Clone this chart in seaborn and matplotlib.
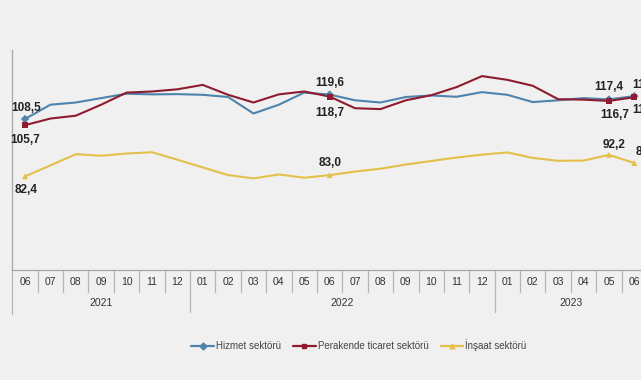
import matplotlib
matplotlib.use("Agg")
import matplotlib.pyplot as plt
import matplotlib.transforms as mtransforms
from matplotlib.lines import Line2D
import seaborn as sns
import pandas as pd

# ---- data ----
months = ["06", "07", "08", "09", "10", "11", "12",
          "01", "02", "03", "04", "05", "06", "07", "08", "09", "10", "11", "12",
          "01", "02", "03", "04", "05", "06"]
years = ["2021", "2022", "2023"]
year_first_idx = [0, 7, 19]
year_last_idx = [6, 18, 24]

hizmet = [108.5, 115.0, 116.0, 118.0, 120.0, 119.7, 119.8,
          119.5, 118.5, 111.0, 115.0, 120.5, 119.6, 117.0, 116.0, 118.5, 119.2, 118.6, 120.7,
          119.5, 116.2, 117.0, 118.0, 117.4, 118.9]
perakende = [105.7, 108.7, 110.0, 115.0, 120.5, 121.0, 122.0,
             124.0, 119.5, 116.0, 119.7, 121.0, 118.7, 113.4, 113.0, 117.0, 119.3, 123.0, 128.0,
             126.3, 123.6, 117.5, 117.3, 116.7, 118.4]
insaat = [82.4, 87.4, 92.5, 91.8, 92.8, 93.4, 90.0,
          86.5, 83.0, 81.5, 83.3, 81.8, 83.0, 84.6, 85.9, 87.8, 89.4, 91.0, 92.3,
          93.3, 90.8, 89.5, 89.6, 92.2, 88.5]
series_names = ["Hizmet sektörü", "Perakende ticaret sektörü", "İnşaat sektörü"]
labelled_idx = [0, 12, 23, 24]

# ---- style ----
colors = ["#4d83ad", "#8e1b2e", "#e3c04a"]
markers = ["D", "s", "^"]
bg = "#f0f0f0"

sns.set_theme(style="white")
plt.rcParams["font.family"] = ["Liberation Sans", "DejaVu Sans"]

df = pd.DataFrame({
    "idx": list(range(len(months))) * 3,
    "value": hizmet + perakende + insaat,
    "series": sum([[n] * len(months) for n in series_names], []),
})
df_mark = df[df["idx"].isin(labelled_idx)]

fig = plt.figure(figsize=(6.41, 3.80), dpi=100, facecolor=bg)
ax = fig.add_axes([12.3 / 641, 110.3 / 380, 634.7 / 641, 220 / 380])
ax.set_facecolor(bg)

pal = dict(zip(series_names, colors))
sns.lineplot(data=df, x="idx", y="value", hue="series", palette=pal,
             linewidth=1.5, ax=ax, legend=False)
sns.scatterplot(data=df_mark, x="idx", y="value", hue="series", style="series",
                markers=dict(zip(series_names, markers)), palette=pal,
                s=18, linewidth=0, ax=ax, legend=False, zorder=5)

# data labels (offsets in points: dx, dy)
offsets = {
    series_names[0]: [(1, 8), (0, 8), (0, 9), (9, 8)],
    series_names[1]: [(0, -11), (0, -12), (4, -10), (9, -9)],
    series_names[2]: [(1, -10), (0, 9), (4, 7), (9, 8)],
}
for name in series_names:
    sub = df_mark[df_mark["series"] == name]
    for (dx, dy), (_, row) in zip(offsets[name], sub.iterrows()):
        ax.annotate(f"{row['value']:.1f}".replace(".", ","),
                    (row["idx"], row["value"]), xytext=(dx, dy),
                    textcoords="offset points", ha="center", va="center",
                    fontsize=8.5, fontweight="bold", color="#222222",
                    annotation_clip=False)

ax.set_xlim(-0.5, len(months) - 0.5)
ax.set_ylim(40, 140)
ax.set_yticks(range(40, 141, 20))
ax.set_yticklabels([])
ax.tick_params(axis="y", direction="out", length=4, color="#a8a8a8", width=0.8)
ax.set_xticks(range(len(months)))
ax.set_xticklabels(months, fontsize=7.5, color="#333333")
ax.tick_params(axis="x", length=0, pad=5)
ax.set_xlabel("")
ax.set_ylabel("")
for s in ["top", "right"]:
    ax.spines[s].set_visible(False)
for s in ["left", "bottom"]:
    ax.spines[s].set_color("#a8a8a8")
    ax.spines[s].set_linewidth(0.9)

trans = mtransforms.blended_transform_factory(ax.transData, ax.transAxes)
# month separators
for i in range(len(months) - 1):
    depth = -0.19 if i in year_last_idx else -0.10
    ax.plot([i + 0.5, i + 0.5], [0, depth], transform=trans, color="#b5b5b5",
            lw=0.9, clip_on=False)
ax.plot([-0.5, -0.5], [0, -0.2], transform=trans, color="#b5b5b5", lw=0.9, clip_on=False)
# year labels
for y, a, b in zip(years, year_first_idx, year_last_idx):
    ax.text((a + b) / 2, -0.15, y, transform=trans, ha="center", va="center",
            fontsize=7.5, color="#333333")

handles = [Line2D([0], [0], color=c, marker=m, markersize=3.5, lw=1.6)
           for c, m in zip(colors, markers)]
fig.legend(handles, series_names, loc="center", bbox_to_anchor=(0.56, 0.092),
           ncol=3, frameon=False, fontsize=7, handlelength=2.3,
           handletextpad=0.2, columnspacing=1.3, labelcolor="#444444")

fig.savefig("out.png", dpi=100, facecolor=bg)
